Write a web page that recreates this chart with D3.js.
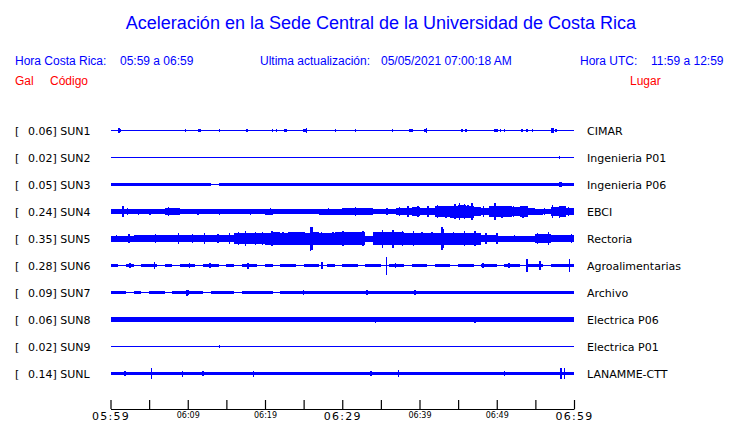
<!DOCTYPE html>
<html>
<head>
<meta charset="utf-8">
<script src="https://cdnjs.cloudflare.com/ajax/libs/d3/7.8.5/d3.min.js"></script>
<style>
  body { margin: 0; background: #fff; }
  .hdr { font-family: "Liberation Sans", Arial, sans-serif; font-size: 12px; white-space: pre; }
  .lbl { font-family: "DejaVu Sans", sans-serif; font-size: 11px; fill: #000; }
</style>
</head>
<body>
<div class="chart"></div>
<script>
var svgWidth = 740;
var svgHeight = 423;

// estaciones, de arriba a abajo
var stations = ["SUN1", "SUN2", "SUN3", "SUN4", "SUN5", "SUN6", "SUN7", "SUN8", "SUN9", "SUNL"];
var peaks = ["0.06", "0.02", "0.05", "0.24", "0.35", "0.28", "0.09", "0.06", "0.02", "0.14"];
var places = ["CIMAR", "Ingenieria P01", "Ingenieria P06", "EBCI", "Rectoria",
  "Agroalimentarias", "Archivo", "Electrica P06", "Electrica P01", "LANAMME-CTT"];

// eje de tiempo (minutos desde 05:59)
var tickMinutes = [0, 5, 10, 15, 20, 25, 30, 35, 40, 45, 50, 55, 60];
var tickLabels = ["05:59", "", "06:09", "", "06:19", "", "06:29", "", "06:39", "", "06:49", "", "06:59"];
var bigLabels = ["05:59", "06:29", "06:59"];

// envolvente por minuto (amplitud relativa, 0-100) y picos [minuto, amplitud]
var envSUN1 = [0,0,0,0,0,0,0,0,0,0,0,0,0,0,0,0,0,0,0,0,0,0,0,0,0,0,0,0,0,0,
  0,0,0,0,0,0,0,0,0,0,0,0,0,0,0,0,0,0,0,0,0,0,0,0,0,0,0,0,0,0];
var spikesSUN1 = [[0.4,8],[1.1,20],[1.3,10],[9.7,12],[11.4,10],[11.6,10],[14.1,12],[15,8],[17.7,12],
  [21,12],[21.5,12],[22.5,12],[22.7,12],[25,12],[25.2,10],[25.4,20],[29.1,12],[31.7,12],
  [36.5,12],[38.8,12],[39,10],[40.7,12],[40.9,20],[45.5,12],[46,12],[46.8,6],[49.8,12],
  [50,12],[50.5,12],[51,12],[51.5,6],[53.3,12],[53.9,12],[54.6,12],[57.1,20],[57.3,20],[57.7,14]];

var envSUN2 = [0,0,0,0,0,0,0,0,0,0,0,0,0,0,0,0,0,0,0,0,0,0,0,0,0,0,0,0,0,0,
  0,0,0,0,0,0,0,0,0,0,0,0,0,0,0,0,0,0,0,0,0,0,0,0,0,0,0,0,0,0];
var spikesSUN2 = [[58.1,12]];

var envSUN3 = [10,10,10,10,10,10,10,10,10,10,10,10,10,0,10,10,10,10,10,10,10,10,10,10,10,10,10,10,10,10,
  10,10,10,10,10,10,10,10,10,10,10,10,10,10,10,10,10,10,10,10,10,10,10,10,10,10,10,10,10,10];
var spikesSUN3 = [[2.3,14],[8.1,14],[21.6,14],[32.4,14],[47.5,14],[58.2,22],[58.4,18]];

var envSUN4 = [21,17,17,17,17,17,17,29,29,17,17,17,17,17,17,17,17,21,21,17,25,17,17,17,17,17,21,25,25,25,
  29,29,29,29,21,21,21,29,33,38,33,33,42,42,50,58,50,38,33,42,46,42,38,42,33,25,21,38,42,29];
var spikesSUN4 = [[1.6,48],[2.2,29],[3.6,25],[5.1,25],[7.5,38],[8.2,33],[11.3,25],[14.1,25],
  [18.1,25],[20.7,29],[23.5,21],[26.1,21],[28.2,29],[29.5,25],[30.6,33],[31.7,38],[33.1,33],
  [35.8,29],[37.4,38],[38.5,42],[39.8,46],[41.1,42],[42.3,58],[43.4,50],[44.6,62],[45.2,67],
  [45.8,62],[46.3,58],[46.8,67],[48.3,46],[49.8,67],[50.7,50],[52.2,46],[53.4,50],[56.2,29],
  [57.2,58],[58.1,50],[59.3,38]];

var envSUN5 = [25,25,25,29,29,29,29,29,29,29,29,29,29,29,29,29,46,46,46,46,50,54,50,58,54,50,54,50,50,54,
  54,54,54,25,54,58,58,54,50,50,50,50,50,50,50,50,50,50,33,33,25,25,25,25,25,38,38,29,29,29];
var spikesSUN5 = [[0.8,33],[2.4,38],[4.1,33],[5.8,38],[7.3,33],[8.8,42],[10.6,38],[12.2,42],
  [13.9,38],[15.4,42],[16.6,58],[17.5,62],[18.8,54],[19.7,58],[20.9,62],[22.3,58],[24,58],
  [25.1,54],[25.9,100],[26.1,92],[27.3,58],[28.8,58],[30.1,62],[31.5,58],[32.7,62],[35.2,75],
  [36.6,75],[37.8,62],[39.2,62],[40.3,58],[41.6,58],[42.9,92],[43.1,80],[44.4,58],[45.8,62],
  [47.2,62],[48.6,42],[50,42],[52.3,33],[55.3,46],[56.7,58],[58.2,33],[59.7,38]];

var envSUN6 = [12,0,12,0,12,12,0,12,0,12,12,0,12,12,0,12,0,12,12,0,12,0,12,12,0,12,12,0,12,0,
  12,12,0,12,12,0,12,12,0,12,12,0,12,12,0,12,12,0,12,12,0,12,12,0,12,12,0,12,12,12];
var spikesSUN6 = [[2.5,21],[5.7,29],[10.2,21],[12.9,21],[17.8,25],[27.4,33],[35.7,75],[36.9,17],
  [48.2,17],[51.6,17],[53.9,58],[55.6,38],[59.4,58]];

var envSUN7 = [13,13,0,13,0,13,13,0,13,13,13,13,0,13,13,13,0,13,13,13,13,0,13,13,13,13,13,13,13,13,
  13,13,13,13,13,13,13,13,13,13,13,13,13,13,13,13,13,13,13,13,13,13,13,13,13,13,13,13,13,13];
var spikesSUN7 = [[9.9,25],[10.1,21],[25,17],[33.2,21],[39.4,17]];

var envSUN8 = [18,18,18,17,17,17,17,17,17,17,17,17,17,17,17,17,17,17,17,17,17,17,17,17,17,17,17,17,17,17,
  17,17,17,17,17,17,17,17,17,17,17,17,17,17,17,17,17,17,17,17,17,17,17,17,17,17,17,17,17,17];
var spikesSUN8 = [[14.2,21],[18.8,21],[34.3,25],[44.9,21],[47.2,25],[58.2,21],[58.9,21]];

var envSUN9 = [0,0,0,0,0,0,0,0,0,0,0,0,0,0,0,0,0,0,0,0,0,0,0,0,0,0,0,0,0,0,
  0,0,0,0,0,0,0,0,0,0,0,0,0,0,0,0,0,0,0,0,0,0,0,0,0,0,0,0,0,0];
var spikesSUN9 = [[14.1,12],[46.7,8],[58.1,8],[58.4,8],[58.8,8]];

var envSUNL = [14,14,14,14,14,14,14,14,14,14,14,14,14,14,14,14,14,14,14,14,14,14,14,14,14,14,14,14,14,14,
  14,14,14,14,14,14,14,14,14,14,14,14,14,14,14,14,14,14,14,14,14,14,14,14,14,14,14,14,14,14];
var spikesSUNL = [[1.9,21],[5.3,42],[9.3,25],[12,21],[18.5,25],[33.7,21],[37.3,33],[51,21],
  [58.3,42],[58.8,42]];

var envelopes = [envSUN1, envSUN2, envSUN3, envSUN4, envSUN5, envSUN6, envSUN7, envSUN8, envSUN9, envSUNL];
var spikes = [spikesSUN1, spikesSUN2, spikesSUN3, spikesSUN4, spikesSUN5, spikesSUN6, spikesSUN7, spikesSUN8, spikesSUN9, spikesSUNL];

var svg = d3
  .select(".chart")
  .append("svg")
  .attr("width", svgWidth)
  .attr("height", svgHeight);

var xScale = d3.scaleLinear().domain([0, 60]).range([110.5, 574]);
var yScale = d3.scaleBand().domain(stations).range([116.5, 386.5]);
var ampScale = d3.scaleLinear().domain([0, 100]).range([0, 12]);
var blue = "#0000ff";
var red = "#ff0000";

// encabezado
svg.append("text")
  .attr("class", "hdr")
  .attr("x", 381)
  .attr("y", 29)
  .attr("text-anchor", "middle")
  .style("font-size", "18px")
  .style("fill", blue)
  .text("Aceleración en la Sede Central de la Universidad de Costa Rica");

var headers = [
  [15, 65, "Hora Costa Rica:", blue],
  [120, 65, "05:59 a 06:59", blue],
  [260, 65, "Ultima actualización:", blue],
  [381, 65, "05/05/2021 07:00:18 AM", blue],
  [580, 65, "Hora UTC:", blue],
  [651, 65, "11:59 a 12:59", blue],
  [15, 85, "Gal", red],
  [50, 85, "Código", red],
  [630, 85, "Lugar", red]
];

svg.selectAll(".hdrtext")
  .data(headers)
  .enter()
  .append("text")
  .attr("class", "hdr hdrtext")
  .attr("x", function(d) { return d[0]; })
  .attr("y", function(d) { return d[1]; })
  .style("fill", function(d) { return d[3]; })
  .text(function(d) { return d[2]; });

// trazas
var traces = svg.append("g").attr("shape-rendering", "crispEdges");

stations.forEach(function(st, i) {
  var yc = Math.round(yScale(st) + yScale.bandwidth() / 2);
  var g = traces.append("g");

  g.append("line")
    .attr("x1", xScale(0)).attr("x2", xScale(60))
    .attr("y1", yc + 0.5).attr("y2", yc + 0.5)
    .attr("stroke", blue)
    .attr("stroke-width", 1.4);

  g.selectAll("rect")
    .data(envelopes[i])
    .enter()
    .append("rect")
    .attr("x", function(d, j) { return xScale(j); })
    .attr("width", function(d, j) { return xScale(j + 1) - xScale(j); })
    .attr("y", function(d) { return yc + 0.5 - ampScale(d); })
    .attr("height", function(d) { return 2 * ampScale(d); })
    .attr("fill", blue);

  g.selectAll(".spike")
    .data(spikes[i])
    .enter()
    .append("line")
    .attr("class", "spike")
    .attr("x1", function(d) { return xScale(d[0]); })
    .attr("x2", function(d) { return xScale(d[0]); })
    .attr("y1", function(d) { return yc + 0.5 - ampScale(d[1]); })
    .attr("y2", function(d) { return yc + 0.5 + ampScale(d[1]); })
    .attr("stroke", blue)
    .attr("stroke-width", 1.5);

  svg.append("text").attr("class", "lbl")
    .attr("x", 15).attr("y", yc + 4.5).text("[");
  svg.append("text").attr("class", "lbl")
    .attr("x", 28).attr("y", yc + 4.5).text(peaks[i] + "] " + st);
  svg.append("text").attr("class", "lbl")
    .attr("x", 587).attr("y", yc + 4.5).text(places[i]);
});

// eje inferior
var bottomAxis = d3.axisBottom(xScale)
  .tickValues(tickMinutes)
  .tickSizeInner(-9)
  .tickSizeOuter(0)
  .tickPadding(3)
  .tickFormat(function(d, i) { return tickLabels[i]; });

var axisG = svg.append("g")
  .attr("transform", "translate(0,409)")
  .call(bottomAxis);

axisG.select(".domain").attr("stroke", "#000").attr("stroke-width", 1.2);
axisG.selectAll(".tick line").attr("stroke", "#000").attr("stroke-width", 1.2);
axisG.selectAll(".tick text")
  .attr("fill", "#000")
  .style("font-family", "'DejaVu Sans', sans-serif")
  .style("font-size", function(d, i) {
    return bigLabels.indexOf(tickLabels[i]) >= 0 ? "11px" : "8px";
  })
  .style("letter-spacing", function(d, i) {
    return bigLabels.indexOf(tickLabels[i]) >= 0 ? "1.3px" : "0px";
  });
</script>
</body>
</html>
